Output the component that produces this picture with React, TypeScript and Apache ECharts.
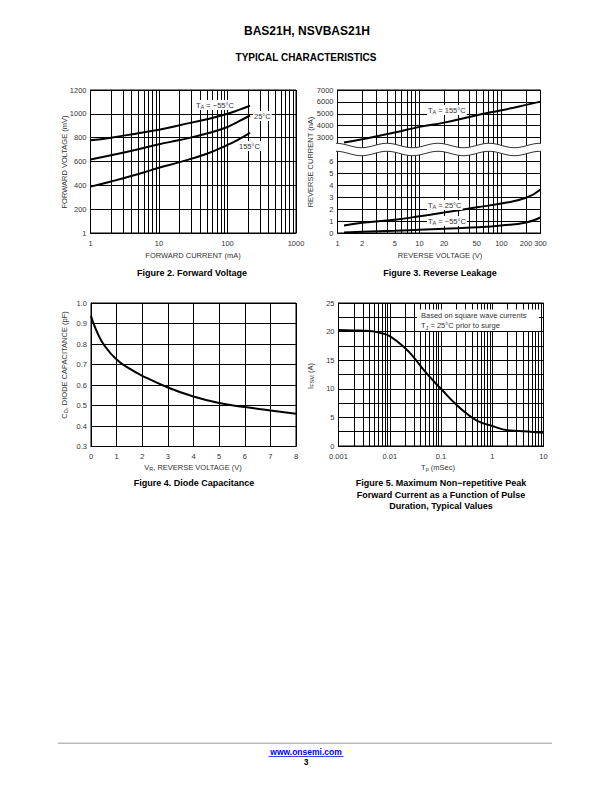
import React, { useEffect, useRef } from 'react';
import * as echarts from 'echarts';

const FONT = 'Liberation Sans, Arial, Helvetica, sans-serif';

// ---------- Figure 2: Forward voltage ----------
const fvCurrent = [1, 2, 5, 10, 20, 50, 100, 150, 213];
const fvMinus55 = [778, 800, 838, 866, 905, 955, 1000, 1035, 1068];
const fv25 = [617, 652, 702, 745, 780, 835, 890, 940, 986];
const fv155 = [389, 432, 495, 548, 595, 665, 739, 790, 840];
const fvXTicks = [1, 2, 3, 4, 5, 6, 7, 8, 9, 10, 20, 30, 40, 50, 60, 70, 80, 90, 100, 200, 300, 400, 500, 600, 700, 800, 900, 1000];
const fvXLabels = [1, 10, 100, 1000];

// ---------- Figure 3: Reverse leakage ----------
const rvVoltage = [1.2, 2, 5, 10, 20, 50, 100, 200, 300];
const rv155 = [2580, 2870, 3420, 3900, 4260, 4880, 5300, 5750, 6025];
const rv25 = [0.63, 0.85, 1.12, 1.4, 1.72, 2.15, 2.48, 2.95, 3.65];
const rvMinus55 = [0.05, 0.1, 0.18, 0.27, 0.36, 0.48, 0.63, 0.88, 1.3];
const rvXTicks = [1, 2, 3, 4, 5, 6, 7, 8, 9, 10, 20, 30, 40, 50, 60, 70, 80, 90, 100, 200, 300];
const rvXLabels = [1, 2, 5, 10, 20, 50, 100, 200, 300];

// ---------- Figure 4: Diode capacitance ----------
const cdVoltage = [0, 0.1, 0.25, 0.5, 1, 1.5, 2, 3, 4, 5, 6, 7, 8];
const cdCap = [0.938, 0.9, 0.855, 0.797, 0.724, 0.68, 0.645, 0.588, 0.544, 0.512, 0.493, 0.476, 0.46];

// ---------- Figure 5: Surge current ----------
const tpTime = [0.001, 0.002, 0.004, 0.007, 0.01, 0.02, 0.03, 0.05, 0.1, 0.2, 0.3, 0.5, 1, 2, 5, 10];
const ifsm = [20.3, 20.2, 20.1, 19.7, 19.2, 17.1, 15.4, 12.9, 10.0, 7.2, 5.85, 4.45, 3.5, 2.75, 2.55, 2.3];
const tpXTicks = [
  0.001, 0.002, 0.003, 0.004, 0.005, 0.006, 0.007, 0.008, 0.009,
  0.01, 0.02, 0.03, 0.04, 0.05, 0.06, 0.07, 0.08, 0.09,
  0.1, 0.2, 0.3, 0.4, 0.5, 0.6, 0.7, 0.8, 0.9,
  1, 2, 3, 4, 5, 6, 7, 8, 9, 10,
];
const tpXLabels = ['0.001', '0.01', '0.1', '1', '10'];

const lg = (v: number) => Math.log10(v);
const pairs = (xs: number[], ys: number[]) => xs.map((x, i) => [lg(x), ys[i]]);

const black = '#000';
const TICK_FS = 7.5;
const labelStyle = { color: '#333', fontSize: TICK_FS, fontFamily: FONT };
const axisLine = { show: true, onZero: false, lineStyle: { color: black, width: 1 } };
const splitLine = { show: true, lineStyle: { color: black, width: 1 } };

const logXAxis = (gridIndex: number, min: number, max: number, ticks: number[], labels: number[], fmt: (v: number) => string, show = true) => ({
  type: 'value',
  gridIndex,
  min,
  max,
  axisLine,
  axisTick: { show: false, customValues: ticks.map(lg) },
  axisLabel: { show, ...labelStyle, margin: 6, customValues: labels.map(lg), formatter: fmt },
  splitLine,
});

const linYAxis = (gridIndex: number, min: number, max: number, interval: number, fmt: (v: number) => string) => ({
  type: 'value',
  gridIndex,
  min,
  max,
  interval,
  axisLine,
  axisTick: { show: false },
  axisLabel: { ...labelStyle, margin: 4, formatter: fmt },
  splitLine,
});

const curve = (xi: number, yi: number, data: number[][]) => ({
  type: 'line',
  xAxisIndex: xi,
  yAxisIndex: yi,
  data,
  showSymbol: false,
  smooth: 0.5,
  lineStyle: { color: black, width: 2 },
  z: 5,
});

const rich = {
  n: { fontSize: 7.5, fontFamily: FONT, fill: '#333', lineHeight: 10 },
  s: { fontSize: 5.5, fontFamily: FONT, fill: '#333', lineHeight: 5, verticalAlign: 'bottom' },
};

const text = (x: number, y: number, t: string, extra: any = {}, rotation = 0) => ({
  type: 'text',
  x,
  y,
  rotation,
  z: 50,
  style: {
    text: t,
    fontFamily: FONT,
    fontSize: 7.5,
    fill: '#333',
    align: 'center',
    verticalAlign: 'middle',
    ...extra,
  },
});

const caption = (x: number, y: number, t: string) =>
  text(x, y, t, { fontSize: 9, fontWeight: 'bold', fill: '#000' });

const boxText = (x: number, y: number, t: string) =>
  text(x, y, t, { rich, align: 'left', backgroundColor: '#fff', padding: [0, 1, 0, 1] });

// decorative wavy break for figure 3
const wave = (yc: number, amp: number, x0: number, x1: number, period: number) => {
  const pts: number[][] = [];
  for (let x = x0; x <= x1 + 0.01; x += 1) {
    pts.push([x, yc - amp * Math.cos((2 * Math.PI * (x - x0)) / period)]);
  }
  return pts;
};
const WX0 = 336;
const WX1 = 541.5;
const upperWave = wave(145.5, 2.2, WX0, WX1, 51);
const lowerWave = wave(153.5, 2.2, WX0, WX1, 51);

const option: any = {
  animation: false,
  backgroundColor: '#fff',
  grid: [
    { left: 90.5, top: 90, width: 205.5, height: 143, show: true, borderColor: black, borderWidth: 1 },
    { left: 337.5, top: 90, width: 203, height: 59.5, show: true, borderColor: black, borderWidth: 1 },
    { left: 337.5, top: 149.5, width: 203, height: 83.5, show: true, borderColor: black, borderWidth: 1 },
    { left: 91, top: 303, width: 205, height: 143.5, show: true, borderColor: black, borderWidth: 1 },
    { left: 338.5, top: 303, width: 205, height: 143, show: true, borderColor: black, borderWidth: 1 },
  ],
  xAxis: [
    logXAxis(0, 0, 3, fvXTicks, fvXLabels, (v) => String(Math.round(Math.pow(10, v)))),
    logXAxis(1, 0, lg(300), rvXTicks, rvXLabels, () => '', false),
    logXAxis(2, 0, lg(300), rvXTicks, rvXLabels, (v) => String(Math.round(Math.pow(10, v)))),
    {
      type: 'value', gridIndex: 3, min: 0, max: 8, interval: 1, axisLine,
      axisTick: { show: false }, axisLabel: { ...labelStyle, margin: 6 }, splitLine,
    },
    logXAxis(4, -3, 1, tpXTicks, [0.001, 0.01, 0.1, 1, 10], (v) => tpXLabels[Math.round(v) + 3] ?? ''),
  ],
  yAxis: [
    linYAxis(0, 0, 1200, 200, (v) => (v === 0 ? '1' : String(v))),
    linYAxis(1, 2000, 7000, 1000, (v) => (v === 2000 ? '' : String(v))),
    linYAxis(2, 0, 7, 1, (v) => (v === 7 ? '' : String(v))),
    linYAxis(3, 0.3, 1.0, 0.1, (v) => v.toFixed(1)),
    linYAxis(4, 0, 25, 2.5, (v) => (Math.abs(v % 5) < 1e-6 ? String(v) : '')),
  ],
  series: [
    curve(0, 0, pairs(fvCurrent, fvMinus55)),
    curve(0, 0, pairs(fvCurrent, fv25)),
    curve(0, 0, pairs(fvCurrent, fv155)),
    curve(1, 1, pairs(rvVoltage, rv155)),
    curve(2, 2, pairs(rvVoltage, rv25)),
    curve(2, 2, pairs(rvVoltage, rvMinus55)),
    curve(3, 3, cdVoltage.map((x, i) => [x, cdCap[i]])),
    curve(4, 4, pairs(tpTime, ifsm)),
  ],
  graphic: [
    // header
    text(307, 31, 'BAS21H, NSVBAS21H', { fontSize: 12, fontWeight: 'bold', fill: '#000' }),
    text(306, 57, 'TYPICAL CHARACTERISTICS', { fontSize: 10, fontWeight: 'bold', fill: '#000' }),

    // Figure 2 texts
    text(64, 162, 'FORWARD VOLTAGE (mV)', {}, Math.PI / 2),
    text(193, 255, 'FORWARD CURRENT (mA)'),
    caption(192, 273, 'Figure 2. Forward Voltage'),
    boxText(195, 105, '{n|T}{s|A}{n| = −55°C}'),
    boxText(253, 116, '{n|25°C}'),
    boxText(238, 146, '{n|155°C}'),

    // Figure 3 texts
    text(310, 162, 'REVERSE CURRENT (nA)', {}, Math.PI / 2),
    text(440, 255, 'REVERSE VOLTAGE (V)'),
    caption(440, 273, 'Figure 3. Reverse Leakage'),
    boxText(427, 110, '{n|T}{s|A}{n| = 155°C}'),
    boxText(427, 205, '{n|T}{s|A}{n| = 25°C}'),
    boxText(427, 221, '{n|T}{s|A}{n| = −55°C}'),

    // wavy break
    {
      type: 'polygon', z: 60,
      shape: { points: [...upperWave, ...lowerWave.slice().reverse()] },
      style: { fill: '#fff', stroke: 'none' },
    },
    { type: 'polyline', z: 61, shape: { points: upperWave }, style: { stroke: '#333', lineWidth: 1, fill: 'none' } },
    { type: 'polyline', z: 61, shape: { points: lowerWave }, style: { stroke: '#333', lineWidth: 1, fill: 'none' } },

    // Figure 4 texts
    text(64, 365, '{n|C}{s|D}{n|, DIODE CAPACITANCE (pF)}', { rich }, Math.PI / 2),
    text(193, 467, '{n|V}{s|R}{n|, REVERSE VOLTAGE (V)}', { rich }),
    caption(194, 483, 'Figure 4. Diode Capacitance'),

    // Figure 5 texts
    text(310, 376, '{n|I}{s|FSM}{n| (A)}', { rich }, Math.PI / 2),
    text(438, 467, '{n|T}{s|p}{n| (mSec)}', { rich }),
    caption(441, 483, 'Figure 5. Maximum Non−repetitive Peak'),
    caption(441, 494.5, 'Forward Current as a Function of Pulse'),
    caption(441, 506, 'Duration, Typical Values'),
    { type: 'rect', z: 49, shape: { x: 417, y: 309.5, width: 122, height: 21.5 }, style: { fill: '#fff' } },
    text(421, 315.5, 'Based on square wave currents', { align: 'left' }),
    text(421, 325.5, '{n|T}{s|J}{n| = 25°C prior to surge}', { rich, align: 'left' }),

    // footer
    { type: 'rect', z: 10, shape: { x: 58, y: 742.5, width: 494, height: 1.5 }, style: { fill: '#bbb' } },
    text(306, 751.5, 'www.onsemi.com', { fontSize: 8.5, fontWeight: 'bold', fill: '#0000ee' }),
    { type: 'rect', z: 10, shape: { x: 268.5, y: 756, width: 75, height: 0.8 }, style: { fill: '#0000ee' } },
    text(306, 762, '3', { fontSize: 8.5, fontWeight: 'bold', fill: '#000' }),
  ],
};

export default function App() {
  const ref = useRef<HTMLDivElement>(null);
  useEffect(() => {
    const chart = echarts.init(ref.current!, null, { renderer: 'svg', width: 612, height: 792 });
    chart.setOption(option);
    return () => chart.dispose();
  }, []);
  return (
    <div
      ref={ref}
      style={{ position: 'absolute', left: 0, top: 0, width: 612, height: 792, background: '#fff' }}
    />
  );
}
